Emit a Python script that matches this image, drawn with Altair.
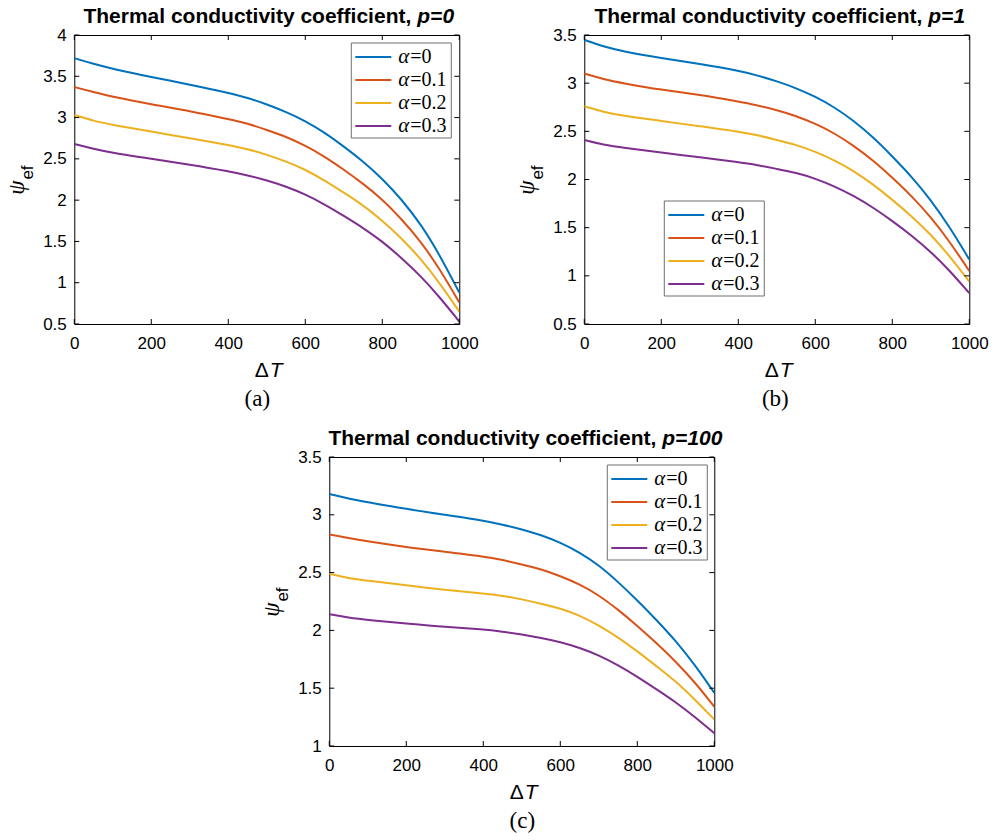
import altair as alt
import pandas as pd

# ---------------- data ----------------
DT = [0, 50, 100, 200, 300, 400, 450, 500, 550, 600, 650, 700, 750, 800, 850, 900, 950, 1000]
SERIES = ["α=0", "α=0.1", "α=0.2", "α=0.3"]
LEG_REST = ["=0", "=0.1", "=0.2", "=0.3"]
COLORS = ["#0072BD", "#D95319", "#EDB120", "#7E2F8E"]
XTICKS = [0, 200, 400, 600, 800, 1000]

# panel (a), p=0
A_A0 = [3.72, 3.65, 3.59, 3.49, 3.40, 3.30, 3.24, 3.16, 3.07, 2.96, 2.82, 2.65, 2.47, 2.26, 2.01, 1.71, 1.33, 0.88]
A_A1 = [3.37, 3.31, 3.25, 3.16, 3.08, 2.98, 2.93, 2.85, 2.77, 2.66, 2.53, 2.37, 2.20, 2.01, 1.77, 1.50, 1.16, 0.76]
A_A2 = [3.03, 2.96, 2.91, 2.83, 2.75, 2.67, 2.62, 2.55, 2.47, 2.37, 2.24, 2.09, 1.94, 1.75, 1.54, 1.29, 0.99, 0.65]
A_A3 = [2.68, 2.62, 2.57, 2.50, 2.43, 2.35, 2.30, 2.24, 2.165, 2.07, 1.95, 1.81, 1.665, 1.50, 1.30, 1.08, 0.82, 0.53]

# panel (b), p=1
B_A0 = [3.45, 3.38, 3.33, 3.26, 3.20, 3.13, 3.08, 3.02, 2.95, 2.86, 2.75, 2.61, 2.44, 2.24, 2.03, 1.79, 1.50, 1.17]
B_A1 = [3.10, 3.04, 3.00, 2.93, 2.88, 2.81, 2.77, 2.72, 2.66, 2.58, 2.48, 2.35, 2.20, 2.02, 1.83, 1.61, 1.35, 1.05]
B_A2 = [2.76, 2.70, 2.66, 2.61, 2.55, 2.50, 2.46, 2.41, 2.36, 2.29, 2.20, 2.09, 1.95, 1.79, 1.62, 1.43, 1.20, 0.94]
B_A3 = [2.41, 2.36, 2.33, 2.28, 2.23, 2.18, 2.15, 2.11, 2.07, 2.01, 1.93, 1.83, 1.71, 1.57, 1.42, 1.25, 1.05, 0.82]

# panel (c), p=100
C_A0 = [3.18, 3.14, 3.11, 3.05, 3.00, 2.95, 2.915, 2.875, 2.825, 2.76, 2.675, 2.565, 2.42, 2.26, 2.09, 1.91, 1.70, 1.46]
C_A1 = [2.83, 2.80, 2.77, 2.72, 2.68, 2.64, 2.61, 2.57, 2.53, 2.47, 2.40, 2.305, 2.18, 2.04, 1.89, 1.73, 1.55, 1.34]
C_A2 = [2.49, 2.45, 2.43, 2.39, 2.35, 2.32, 2.30, 2.27, 2.23, 2.19, 2.13, 2.045, 1.94, 1.82, 1.69, 1.56, 1.40, 1.23]
C_A3 = [2.14, 2.11, 2.09, 2.06, 2.03, 2.01, 1.99, 1.965, 1.935, 1.90, 1.85, 1.785, 1.70, 1.60, 1.49, 1.38, 1.25, 1.11]

W, H = 385, 289
SANS = "Liberation Sans"
SERIF = "Liberation Serif"
ONE = pd.DataFrame({"k": [0]})


def txt(text, x, y, size, font=SANS, weight="normal", style="normal", align="center", angle=0):
    return alt.Chart(ONE).mark_text(
        text=text, font=font, fontSize=size, fontWeight=weight, fontStyle=style,
        align=align, baseline="middle", angle=angle, color="black"
    ).encode(x=alt.value(x), y=alt.value(y))


def panel(series_vals, ymin, ymax, yticks, ptext, title_split, sub, sub_x, leg_x, leg_y):
    rows = []
    for name, vals in zip(SERIES, series_vals):
        for d, v in zip(DT, vals):
            rows.append({"dT": d, "psi": v, "series": name})
    df = pd.DataFrame(rows)
    xs = alt.Scale(domain=[0, 1000], nice=False, zero=False)
    ys = alt.Scale(domain=[ymin, ymax], nice=False, zero=False)
    xaxis = alt.Axis(values=XTICKS, format="d", labelPadding=11, labelFlush=False, title=None)
    yaxis = alt.Axis(values=yticks, format="~g", labelPadding=8, labelFlush=False, title=None)

    lines = alt.Chart(df).mark_line(interpolate="basis", strokeWidth=2, clip=True).encode(
        x=alt.X("dT:Q", scale=xs, axis=xaxis),
        y=alt.Y("psi:Q", scale=ys, axis=yaxis),
        color=alt.Color("series:N", scale=alt.Scale(domain=SERIES, range=COLORS), legend=None),
        detail="series:N",
    )

    xt = pd.DataFrame({"t": XTICKS})
    yt = pd.DataFrame({"t": yticks})
    tb = alt.Chart(xt).mark_rule(color="black", strokeWidth=1).encode(
        x=alt.X("t:Q", scale=xs, axis=xaxis), y=alt.value(H), y2=alt.value(H - 5))
    tt = alt.Chart(xt).mark_rule(color="black", strokeWidth=1).encode(
        x=alt.X("t:Q", scale=xs, axis=xaxis), y=alt.value(0), y2=alt.value(5))
    tl = alt.Chart(yt).mark_rule(color="black", strokeWidth=1).encode(
        y=alt.Y("t:Q", scale=ys, axis=yaxis), x=alt.value(0), x2=alt.value(5))
    tr = alt.Chart(yt).mark_rule(color="black", strokeWidth=1).encode(
        y=alt.Y("t:Q", scale=ys, axis=yaxis), x=alt.value(W - 5), x2=alt.value(W))

    layers = [lines, tb, tt, tl, tr]

    # legend box
    layers.append(alt.Chart(ONE).mark_rect(fill="white", stroke="#6e6e6e", strokeWidth=1).encode(
        x=alt.value(leg_x), x2=alt.value(leg_x + 100), y=alt.value(leg_y), y2=alt.value(leg_y + 95)))
    for i, (rest, col) in enumerate(zip(LEG_REST, COLORS)):
        yy = leg_y + 14 + i * 23
        layers.append(alt.Chart(ONE).mark_rule(color=col, strokeWidth=2).encode(
            x=alt.value(leg_x + 4), x2=alt.value(leg_x + 40), y=alt.value(yy)))
        layers.append(txt("α", leg_x + 47, yy, 21, font=SERIF, style="italic", align="left"))
        layers.append(txt(rest, leg_x + 59, yy, 20, font=SERIF, align="left"))

    # title
    layers.append(txt("Thermal conductivity coefficient,", title_split, -18, 21, weight="bold", align="right"))
    layers.append(txt(ptext, title_split + 6, -18, 21, weight="bold", style="italic", align="left"))
    # axis titles
    layers.append(txt("Δ", W / 2 + 2, H + 47, 21, align="right"))
    layers.append(txt("T", W / 2 + 3, H + 47, 21, style="italic", align="left"))
    layers.append(txt("ψ", -57, H / 2 + 8, 23, font=SERIF, style="italic", angle=270))
    layers.append(txt("ef", -46, H / 2 - 7, 17, angle=270))
    # sub label
    layers.append(txt(sub, sub_x, H + 75, 23, font=SERIF))

    return alt.layer(*layers).properties(width=W, height=H)


pa = panel([A_A0, A_A1, A_A2, A_A3], 0.5, 4.0, [0.5, 1, 1.5, 2, 2.5, 3, 3.5, 4],
           "p=0", 337, "(a)", 183, 277, 8)
pb = panel([B_A0, B_A1, B_A2, B_A3], 0.5, 3.5, [0.5, 1, 1.5, 2, 2.5, 3, 3.5],
           "p=1", 338, "(b)", 191, 80, 166)
pc = panel([C_A0, C_A1, C_A2, C_A3], 1.0, 3.5, [1, 1.5, 2, 2.5, 3, 3.5],
           "p=100", 327, "(c)", 193, 278, 8)

top = alt.hconcat(pa, pb, spacing=36)
chart = alt.vconcat(top, pc, spacing=15, center=True).configure_view(
    stroke="black", strokeWidth=1
).configure_axis(
    ticks=False, domain=False, grid=False, labelFont=SANS, labelFontSize=17,
    labelColor="black", tickSize=0
).properties(background="white", padding=5)

chart.save("out.html", embed_options={"renderer": "svg", "actions": False})
